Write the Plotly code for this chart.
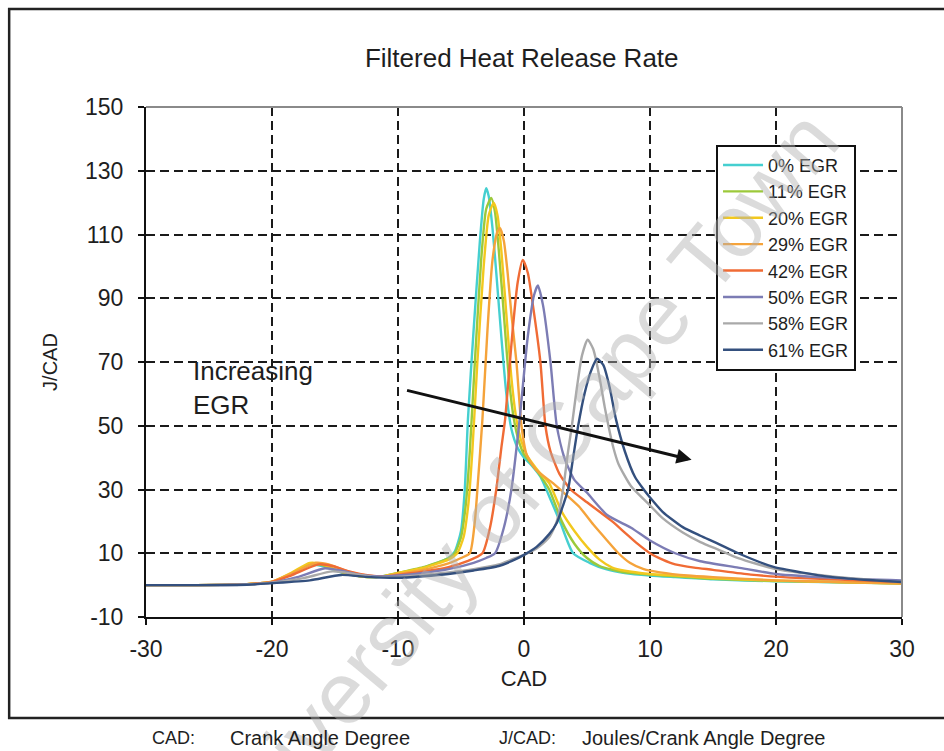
import plotly.graph_objects as go

# ---- series data: crank angle (CAD) and filtered heat release rate (J/CAD) ----
egr_labels = ["0% EGR", "11% EGR", "20% EGR", "29% EGR", "42% EGR", "50% EGR", "58% EGR", "61% EGR"]

cad_egr00 = [-30, -26, -22, -20, -18.5, -17, -16, -14.5, -13, -11.5, -10, -8, -7, -6, -5.5, -5, -4.7, -4.45,
             -4, -3.5, -3.2, -3, -2.8, -2.5, -2.2, -1.8, -1.4, -1, -0.5, 0, 0.5, 1.3, 2.2, 2.9, 3.9, 5.2,
             6.5, 8, 10, 12, 15, 20, 25, 30]
hrr_egr00 = [0, 0, 0.3, 1, 3.5, 6.3, 6, 4, 2.8, 2.6, 3.7, 5.5, 6.8, 8.5, 10.5, 17, 30, 52,
             80, 108, 121, 124.5, 122, 112, 98, 78, 60, 49, 43, 40, 38, 34, 26, 19.5, 10, 7,
             5, 3.8, 3, 2.5, 1.8, 1.2, 0.9, 0.6]

cad_egr11 = [-30, -26, -22, -20, -18.5, -17, -16, -14.5, -13, -11.5, -10, -8, -7, -6, -5.5, -5, -4.6, -4.3,
             -3.9, -3.4, -3, -2.6, -2.3, -2, -1.6, -1.2, -0.8, -0.4, 0, 0.5, 1, 2, 3, 4, 5, 6, 8, 10,
             12, 15, 20, 25, 30]
hrr_egr11 = [0, 0, 0.3, 1, 3.6, 6.6, 6.3, 4.1, 2.8, 2.6, 3.8, 5.6, 6.9, 8.4, 10, 15, 26, 42,
             70, 102, 118, 121.5, 117, 105, 85, 65, 52, 45, 41, 38.5, 36, 30, 20, 13, 8.5, 6, 4, 3.3,
             2.8, 2, 1.3, 0.9, 0.5]

cad_egr20 = [-30, -26, -22, -20, -18.5, -17, -16, -14.5, -13, -11.5, -10, -8, -7, -6, -5.3, -4.8, -4.4, -4.1,
             -3.7, -3.2, -2.8, -2.4, -2.1, -1.8, -1.4, -1, -0.6, -0.2, 0.2, 0.7, 1.3, 2, 3, 4, 5, 6, 7,
             8, 10, 12, 15, 20, 25, 30]
hrr_egr20 = [0, 0, 0.3, 1.1, 3.8, 7, 6.6, 4.2, 2.8, 2.6, 3.8, 5.4, 6.6, 8, 10, 15, 26, 42,
             70, 100, 116, 120, 116, 105, 85, 65, 52, 45, 41, 38, 35, 32, 23, 17, 12, 8, 5.5,
             4.5, 3.5, 3, 2.2, 1.4, 1, 0.6]

cad_egr29 = [-30, -26, -22, -20, -18.5, -16.5, -15.5, -14, -12.5, -11, -10, -8, -6, -5, -4.3, -3.9, -3.7,
             -3.3, -2.9, -2.5, -2.1, -1.9, -1.6, -1.3, -1, -0.6, -0.2, 0.2, 1, 2.3, 3.3, 4.4, 5.5, 6.6,
             7.5, 8.4, 9.5, 10.8, 13, 15, 20, 25, 30]
hrr_egr29 = [0, 0, 0.3, 1.1, 3.5, 7, 6.5, 4.3, 3, 2.8, 3.5, 4.8, 6.8, 8.5, 10, 20, 30,
             52, 80, 102, 111, 112, 108, 98, 85, 70, 50, 41, 36, 32, 28.5, 24.5, 19, 14,
             10, 7, 5, 4, 3, 2.5, 1.5, 1, 0.5]

cad_egr42 = [-30, -26, -22, -20, -18.5, -16.3, -15.2, -13.8, -12.3, -11, -10, -8, -6, -4.5, -3.3, -2.7,
             -2.2, -1.8, -1.5, -1.2, -0.9, -0.5, -0.1, 0.3, 0.7, 1.3, 1.7, 2.1, 2.8, 3.7, 5, 6, 7, 8,
             9, 10, 11, 12, 13.5, 15, 18, 22, 26, 30]
hrr_egr42 = [0, 0, 0.3, 1, 3, 6.5, 6, 4.2, 3, 2.7, 3.2, 4.2, 5.6, 7.5, 10, 18,
             30, 43, 52, 66, 80, 95, 102, 98, 88, 70, 50, 42, 35, 30, 26, 23, 20, 16.5,
             13, 10, 8, 6.5, 5.5, 4.8, 3.3, 2.2, 1.6, 1]

cad_egr50 = [-30, -26, -22, -20, -18, -15.8, -14.5, -13, -11.5, -10, -8, -6, -4, -3, -2.3, -1.6, -1, -0.4,
             0.3, 0.8, 1.1, 1.5, 2.1, 2.6, 3.2, 4, 5, 6.6, 8.5, 10, 12, 14, 17, 20, 25, 30]
hrr_egr50 = [0, 0, 0.2, 0.8, 2.5, 5.3, 4.5, 3.2, 2.7, 3, 3.8, 5, 7, 8.5, 10, 18, 30, 50,
             78, 91, 94, 88, 70, 50, 40, 33, 29, 22, 18, 14, 10, 7.5, 5.5, 3.5, 2.2, 1.5]

cad_egr58 = [-30, -26, -22, -20, -17.5, -15.2, -13.5, -12, -10, -8, -6, -4, -2, -1, 0, 1, 2, 2.6, 3.1, 3.5,
             3.8, 4.2, 4.6, 5.05, 5.5, 6, 6.4, 6.7, 7.1, 7.5, 8.5, 10, 11, 12.6, 14, 15.5, 17, 20, 25, 30]
hrr_egr58 = [0, 0, 0.2, 0.8, 2.2, 4.3, 3.5, 2.6, 2.6, 3.2, 4, 5, 6.5, 8, 9.5, 11.5, 15, 20, 30, 42,
             50, 62, 72, 77, 74, 65, 56, 50, 43, 38, 31, 25, 21, 16.5, 13.5, 11, 8.5, 5, 2.5, 1]

cad_egr61 = [-30, -26, -22, -20, -17, -14.5, -12.5, -10, -8, -6, -4, -2, -1, 0, 1, 2, 2.6, 3.1, 3.5, 3.9,
             4.3, 4.8, 5.3, 5.8, 6.3, 6.8, 7.3, 8, 8.8, 9.5, 10, 11, 12.6, 14, 15.3, 17, 19.8, 22, 24.5,
             27, 30]
hrr_egr61 = [0, 0, 0.1, 0.6, 1.5, 3.2, 2.6, 2.3, 2.8, 3.5, 4.6, 6, 7.5, 9.5, 12, 16, 19.5, 25, 30, 40,
             50, 60, 67, 71, 69, 62, 52, 42, 34, 30, 27.5, 23, 18.2, 15.5, 13.2, 10, 5.7, 4, 2.5,
             1.7, 1]

x_ticks = [-30, -20, -10, 0, 10, 20, 30]
y_ticks = [-10, 10, 30, 50, 70, 90, 110, 130, 150]

# trend arrow (CAD, J/CAD) from tail to head
trend_tail = (-9.4, 61.2)
trend_head = (13.3, 39.3)

# ---- styling ----
line_colors = ["#45cfd0", "#9cc93a", "#f2c81e", "#f5a33a", "#f06b35", "#7c7cb4", "#a9a9a9", "#34507e"]
FONT = "Liberation Sans, Arial, sans-serif"
INK = "#1e1e1e"

cad_sets = [cad_egr00, cad_egr11, cad_egr20, cad_egr29, cad_egr42, cad_egr50, cad_egr58, cad_egr61]
hrr_sets = [hrr_egr00, hrr_egr11, hrr_egr20, hrr_egr29, hrr_egr42, hrr_egr50, hrr_egr58, hrr_egr61]

fig = go.Figure()
for label, cad, hrr, color in zip(egr_labels, cad_sets, hrr_sets, line_colors):
    fig.add_trace(go.Scatter(
        x=cad, y=hrr, mode="lines", name=label,
        line=dict(color=color, width=2.4, shape="spline", smoothing=0.6),
    ))

axis_common = dict(
    showgrid=True, gridcolor="#1a1a1a", gridwidth=2, griddash="9px,5px",
    showline=True, linecolor="#111", linewidth=2,
    ticks="outside", ticklen=6, tickwidth=2, tickcolor="#111",
    tickfont=dict(family=FONT, size=23, color=INK),
    zeroline=False, fixedrange=True,
)

fig.update_layout(
    width=944, height=751, autosize=False,
    margin=dict(l=146, r=42, t=107, b=134),
    paper_bgcolor="white", plot_bgcolor="white",
    font=dict(family=FONT, color=INK),
    title=dict(text="Filtered Heat Release Rate", x=0.497, xref="paper", xanchor="center",
               y=1 - 58 / 751, yref="container", yanchor="middle",
               font=dict(family=FONT, size=26, color=INK)),
    xaxis=dict(range=[-30, 30], tickvals=x_ticks, ticktext=[str(v) for v in x_ticks],
               title=dict(text="CAD", font=dict(family=FONT, size=22, color=INK), standoff=10),
               ticklabelstandoff=4, **axis_common),
    yaxis=dict(range=[-10, 150], tickvals=y_ticks, ticktext=[str(v) for v in y_ticks],
               title=dict(text="J/CAD", font=dict(family=FONT, size=20, color=INK), standoff=22),
               ticklabelstandoff=10, **axis_common),
    legend=dict(x=0.754, y=0.926, xanchor="left", yanchor="top",
                bgcolor="white", bordercolor="#111", borderwidth=2,
                font=dict(family=FONT, size=18, color=INK),
                itemwidth=40, tracegroupgap=0),
    showlegend=True,
)

# grey top and right edges of the plotting area
fig.add_shape(type="line", xref="paper", yref="paper", x0=0, x1=1, y0=1, y1=1,
              line=dict(color="#8a8a8a", width=2), layer="above")
fig.add_shape(type="line", xref="paper", yref="paper", x0=1, x1=1, y0=0, y1=1,
              line=dict(color="#8a8a8a", width=2), layer="above")
# outer chart frame
fig.add_shape(type="rect", xref="paper", yref="paper", x0=-0.181, x1=1.09, y0=-0.198, y1=1.192,
              line=dict(color="#222", width=2.5), layer="below")

annotations = [
    # watermark
    dict(text="University of Cape Town", xref="paper", yref="paper", x=0.489, y=0.257,
         xanchor="center", yanchor="middle", textangle=-50, showarrow=False,
         font=dict(family=FONT, size=88, color="rgba(175,175,175,0.45)")),
    dict(text="Increasing<br>EGR", xref="x", yref="y", x=-26.4, y=61.8, xanchor="left",
         yanchor="middle", align="left", showarrow=False,
         font=dict(family=FONT, size=26, color=INK)),
    dict(text="", xref="x", yref="y", x=trend_head[0], y=trend_head[1],
         axref="x", ayref="y", ax=trend_tail[0], ay=trend_tail[1],
         showarrow=True, arrowhead=2, arrowsize=1, arrowwidth=3, arrowcolor="#111"),
    dict(text="CAD:", xref="paper", yref="paper", x=0.0053, y=-0.237, xanchor="left",
         yanchor="middle", showarrow=False, font=dict(family=FONT, size=18, color=INK)),
    dict(text="Crank Angle Degree", xref="paper", yref="paper", x=0.1085, y=-0.237, xanchor="left",
         yanchor="middle", showarrow=False, font=dict(family=FONT, size=20, color=INK)),
    dict(text="J/CAD:", xref="paper", yref="paper", x=0.4643, y=-0.237, xanchor="left",
         yanchor="middle", showarrow=False, font=dict(family=FONT, size=18, color=INK)),
    dict(text="Joules/Crank Angle Degree", xref="paper", yref="paper", x=0.574, y=-0.237, xanchor="left",
         yanchor="middle", showarrow=False, font=dict(family=FONT, size=20, color=INK)),
]
fig.update_layout(annotations=annotations)

fig.write_html("out.html")
